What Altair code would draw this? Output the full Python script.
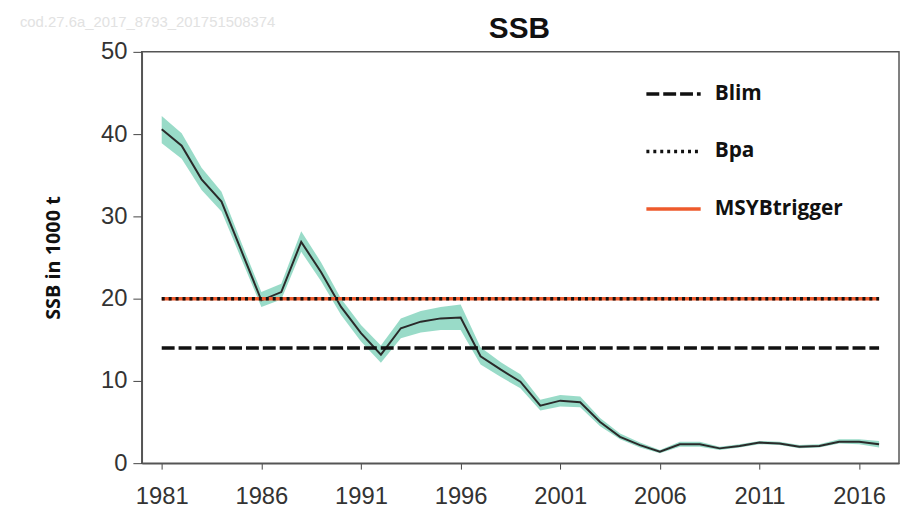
import altair as alt
import pandas as pd

years = list(range(1981, 2018))
ssb = [40.6, 38.6, 34.5, 31.8, 25.8, 19.8, 20.8, 26.9, 23.2, 19.0,
       15.8, 13.2, 16.4, 17.2, 17.6, 17.7, 13.0, 11.4, 9.9, 7.0,
       7.6, 7.4, 5.0, 3.2, 2.2, 1.4, 2.3, 2.3, 1.8, 2.1,
       2.5, 2.4, 2.0, 2.1, 2.6, 2.6, 2.3]
ssb_low = [38.9, 37.0, 33.2, 30.6, 24.8, 19.0, 19.9, 25.7, 22.1, 18.0,
           14.8, 12.2, 15.2, 15.9, 16.2, 16.2, 12.0, 10.5, 9.1, 6.4,
           6.9, 6.8, 4.5, 2.9, 1.9, 1.2, 2.0, 2.0, 1.6, 1.9,
           2.3, 2.2, 1.8, 1.9, 2.4, 2.3, 1.9]
ssb_high = [42.2, 40.1, 35.9, 33.0, 26.8, 20.8, 21.8, 28.2, 24.4, 20.0,
            16.8, 14.3, 17.6, 18.5, 19.0, 19.3, 14.1, 12.3, 10.8, 7.7,
            8.3, 8.1, 5.5, 3.6, 2.5, 1.6, 2.6, 2.6, 2.0, 2.3,
            2.7, 2.6, 2.2, 2.3, 2.9, 2.9, 2.7]

ref_names = ["MSYBtrigger", "Bpa", "Blim"]
ref_values = [20, 20, 14]
legend_order = ["Blim", "Bpa", "MSYBtrigger"]
x_ticks = [1981, 1986, 1991, 1996, 2001, 2006, 2011, 2016]
y_ticks = [0, 10, 20, 30, 40, 50]
title_text = "SSB"
watermark = "cod.27.6a_2017_8793_201751508374"

df = pd.DataFrame({"year": years, "ssb": ssb, "low": ssb_low, "high": ssb_high})
refs = pd.DataFrame({"ref": ref_names, "value": ref_values,
                     "start": [years[0]] * 3, "end": [years[-1]] * 3})

xscale = alt.Scale(domain=[1980, 2018], nice=False, zero=False)
yscale = alt.Scale(domain=[0, 50], nice=False)

xaxis = alt.Axis(values=x_ticks, format="d", title=None, grid=False,
                 labelFont="Liberation Sans", labelFontSize=24, labelColor="#333333",
                 tickSize=6, tickColor="#444444", domainColor="#555555", domainWidth=1.5,
                 labelPadding=16, labelFlush=False)
yaxis = alt.Axis(values=y_ticks, title="SSB in 1000 t", grid=False,
                 labelFont="Liberation Sans", labelFontSize=24, labelColor="#333333",
                 tickSize=9, tickColor="#444444", domainColor="#555555", domainWidth=1.5,
                 labelPadding=6, titleFont="Open Sans", titleFontSize=20,
                 titleFontWeight="bold", titleColor="#111111", titlePadding=37)

legend = alt.Legend(title=None, orient="none", legendX=507, legendY=13,
                    symbolType="stroke", symbolSize=3000, symbolStrokeWidth=3.5,
                    labelFont="Open Sans", labelFontSize=21, labelFontWeight="bold",
                    labelColor="#111111", labelOffset=12, rowPadding=18, padding=0)

band = alt.Chart(df).mark_area(color="#93d9c5", opacity=0.95).encode(
    x=alt.X("year:Q", scale=xscale, axis=xaxis),
    y=alt.Y("low:Q", scale=yscale, axis=yaxis),
    y2="high:Q",
)
line = alt.Chart(df).mark_line(color="#2a2a2a", strokeWidth=2).encode(
    x=alt.X("year:Q", scale=xscale),
    y=alt.Y("ssb:Q", scale=yscale),
)
rules = alt.Chart(refs).mark_rule(strokeWidth=3.5).encode(
    x=alt.X("start:Q", scale=xscale),
    x2="end:Q",
    y=alt.Y("value:Q", scale=yscale),
    color=alt.Color("ref:N", sort=legend_order,
                    scale=alt.Scale(domain=legend_order,
                                    range=["#111111", "#111111", "#ee5a2c"]),
                    legend=legend),
    strokeDash=alt.StrokeDash("ref:N", sort=legend_order,
                              scale=alt.Scale(domain=legend_order,
                                              range=[[13, 4], [3, 4], [1, 0]]),
                              legend=legend),
)
wm = alt.Chart(pd.DataFrame({"t": [watermark]})).mark_text(
    align="left", baseline="middle", font="Liberation Sans", fontSize=15,
    color="#e2e2e2").encode(text="t:N", x=alt.value(-123), y=alt.value(-30))
title = alt.Chart(pd.DataFrame({"t": [title_text]})).mark_text(
    align="center", baseline="alphabetic", font="Liberation Sans", fontSize=30,
    fontWeight="bold", color="#111111").encode(
    text="t:N", x=alt.value(381), y=alt.value(-14))

chart = alt.layer(band, line, rules, wm, title).properties(
    width=764, height=415,
    padding={"left": 135, "top": 42, "right": 1, "bottom": 46},
    autosize=alt.AutoSizeParams(type="none"),
).configure_view(stroke="#555555", strokeWidth=1.5)

chart.save("out.html", embed_options={"renderer": "svg", "actions": False})
